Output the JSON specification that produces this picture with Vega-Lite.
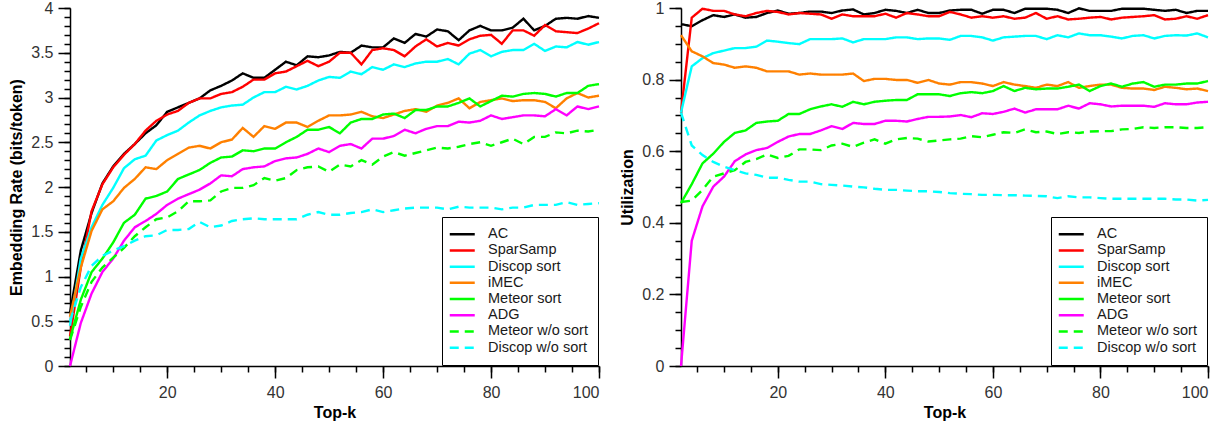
{
"$schema": "https://vega.github.io/schema/vega-lite/v6.json",
"padding": {"left": 8, "top": 0, "right": 5, "bottom": 5},
"bounds": "flush",
"spacing": 82,
"config": {
  "font": "Liberation Sans",
  "view": {"stroke": null},
  "axis": {"grid": false, "domainColor": "black", "domainWidth": 1.5, "tickColor": "black", "tickWidth": 1.5, "labelColor": "#333333", "labelFontSize": 16, "labelFont": "Liberation Sans", "titleFont": "Liberation Sans", "titleFontSize": 16, "titleFontWeight": "bold", "titleColor": "black", "labelPadding": 5},
  "legend": {"orient": "bottom-right", "offset": 1, "padding": 10, "strokeColor": "black", "fillColor": "white", "labelFontSize": 14.5, "labelFont": "Liberation Sans", "labelColor": "#1a1a1a", "symbolType": "M-2.5,0H2.5", "symbolSize": 100, "symbolStrokeWidth": 2.5, "symbolOffset": 3, "labelOffset": 18.5}
},
"datasets": {
"rate": [
{"k":2,"m":"AC","v":0.59},{"k":4,"m":"AC","v":1.29},{"k":6,"m":"AC","v":1.71},{"k":8,"m":"AC","v":2.04},{"k":10,"m":"AC","v":2.23},{"k":12,"m":"AC","v":2.37},{"k":14,"m":"AC","v":2.48},{"k":16,"m":"AC","v":2.60},{"k":18,"m":"AC","v":2.69},{"k":20,"m":"AC","v":2.84},{"k":22,"m":"AC","v":2.89},{"k":24,"m":"AC","v":2.94},{"k":26,"m":"AC","v":2.99},{"k":28,"m":"AC","v":3.08},{"k":30,"m":"AC","v":3.13},{"k":32,"m":"AC","v":3.19},{"k":34,"m":"AC","v":3.27},{"k":36,"m":"AC","v":3.22},{"k":38,"m":"AC","v":3.22},{"k":40,"m":"AC","v":3.31},{"k":42,"m":"AC","v":3.40},{"k":44,"m":"AC","v":3.36},{"k":46,"m":"AC","v":3.46},{"k":48,"m":"AC","v":3.45},{"k":50,"m":"AC","v":3.47},{"k":52,"m":"AC","v":3.51},{"k":54,"m":"AC","v":3.50},{"k":56,"m":"AC","v":3.58},{"k":58,"m":"AC","v":3.56},{"k":60,"m":"AC","v":3.56},{"k":62,"m":"AC","v":3.66},{"k":64,"m":"AC","v":3.61},{"k":66,"m":"AC","v":3.71},{"k":68,"m":"AC","v":3.68},{"k":70,"m":"AC","v":3.76},{"k":72,"m":"AC","v":3.74},{"k":74,"m":"AC","v":3.64},{"k":76,"m":"AC","v":3.75},{"k":78,"m":"AC","v":3.80},{"k":80,"m":"AC","v":3.75},{"k":82,"m":"AC","v":3.75},{"k":84,"m":"AC","v":3.78},{"k":86,"m":"AC","v":3.88},{"k":88,"m":"AC","v":3.75},{"k":90,"m":"AC","v":3.80},{"k":92,"m":"AC","v":3.88},{"k":94,"m":"AC","v":3.89},{"k":96,"m":"AC","v":3.88},{"k":98,"m":"AC","v":3.91},{"k":100,"m":"AC","v":3.89},
{"k":2,"m":"SparSamp","v":0.33},{"k":4,"m":"SparSamp","v":1.10},{"k":6,"m":"SparSamp","v":1.73},{"k":8,"m":"SparSamp","v":2.03},{"k":10,"m":"SparSamp","v":2.22},{"k":12,"m":"SparSamp","v":2.36},{"k":14,"m":"SparSamp","v":2.48},{"k":16,"m":"SparSamp","v":2.63},{"k":18,"m":"SparSamp","v":2.74},{"k":20,"m":"SparSamp","v":2.81},{"k":22,"m":"SparSamp","v":2.85},{"k":24,"m":"SparSamp","v":2.94},{"k":26,"m":"SparSamp","v":2.99},{"k":28,"m":"SparSamp","v":2.99},{"k":30,"m":"SparSamp","v":3.04},{"k":32,"m":"SparSamp","v":3.06},{"k":34,"m":"SparSamp","v":3.12},{"k":36,"m":"SparSamp","v":3.20},{"k":38,"m":"SparSamp","v":3.20},{"k":40,"m":"SparSamp","v":3.27},{"k":42,"m":"SparSamp","v":3.29},{"k":44,"m":"SparSamp","v":3.35},{"k":46,"m":"SparSamp","v":3.41},{"k":48,"m":"SparSamp","v":3.35},{"k":50,"m":"SparSamp","v":3.40},{"k":52,"m":"SparSamp","v":3.50},{"k":54,"m":"SparSamp","v":3.50},{"k":56,"m":"SparSamp","v":3.37},{"k":58,"m":"SparSamp","v":3.53},{"k":60,"m":"SparSamp","v":3.55},{"k":62,"m":"SparSamp","v":3.53},{"k":64,"m":"SparSamp","v":3.46},{"k":66,"m":"SparSamp","v":3.57},{"k":68,"m":"SparSamp","v":3.65},{"k":70,"m":"SparSamp","v":3.57},{"k":72,"m":"SparSamp","v":3.61},{"k":74,"m":"SparSamp","v":3.58},{"k":76,"m":"SparSamp","v":3.65},{"k":78,"m":"SparSamp","v":3.69},{"k":80,"m":"SparSamp","v":3.70},{"k":82,"m":"SparSamp","v":3.60},{"k":84,"m":"SparSamp","v":3.75},{"k":86,"m":"SparSamp","v":3.75},{"k":88,"m":"SparSamp","v":3.69},{"k":90,"m":"SparSamp","v":3.81},{"k":92,"m":"SparSamp","v":3.74},{"k":94,"m":"SparSamp","v":3.73},{"k":96,"m":"SparSamp","v":3.72},{"k":98,"m":"SparSamp","v":3.77},{"k":100,"m":"SparSamp","v":3.83},
{"k":2,"m":"Discop sort","v":0.45},{"k":4,"m":"Discop sort","v":1.20},{"k":6,"m":"Discop sort","v":1.55},{"k":8,"m":"Discop sort","v":1.80},{"k":10,"m":"Discop sort","v":1.99},{"k":12,"m":"Discop sort","v":2.21},{"k":14,"m":"Discop sort","v":2.31},{"k":16,"m":"Discop sort","v":2.35},{"k":18,"m":"Discop sort","v":2.52},{"k":20,"m":"Discop sort","v":2.58},{"k":22,"m":"Discop sort","v":2.63},{"k":24,"m":"Discop sort","v":2.72},{"k":26,"m":"Discop sort","v":2.80},{"k":28,"m":"Discop sort","v":2.85},{"k":30,"m":"Discop sort","v":2.89},{"k":32,"m":"Discop sort","v":2.91},{"k":34,"m":"Discop sort","v":2.92},{"k":36,"m":"Discop sort","v":3.00},{"k":38,"m":"Discop sort","v":3.06},{"k":40,"m":"Discop sort","v":3.06},{"k":42,"m":"Discop sort","v":3.12},{"k":44,"m":"Discop sort","v":3.09},{"k":46,"m":"Discop sort","v":3.13},{"k":48,"m":"Discop sort","v":3.19},{"k":50,"m":"Discop sort","v":3.23},{"k":52,"m":"Discop sort","v":3.22},{"k":54,"m":"Discop sort","v":3.29},{"k":56,"m":"Discop sort","v":3.26},{"k":58,"m":"Discop sort","v":3.34},{"k":60,"m":"Discop sort","v":3.31},{"k":62,"m":"Discop sort","v":3.37},{"k":64,"m":"Discop sort","v":3.34},{"k":66,"m":"Discop sort","v":3.38},{"k":68,"m":"Discop sort","v":3.40},{"k":70,"m":"Discop sort","v":3.40},{"k":72,"m":"Discop sort","v":3.43},{"k":74,"m":"Discop sort","v":3.37},{"k":76,"m":"Discop sort","v":3.49},{"k":78,"m":"Discop sort","v":3.53},{"k":80,"m":"Discop sort","v":3.46},{"k":82,"m":"Discop sort","v":3.51},{"k":84,"m":"Discop sort","v":3.53},{"k":86,"m":"Discop sort","v":3.53},{"k":88,"m":"Discop sort","v":3.60},{"k":90,"m":"Discop sort","v":3.52},{"k":92,"m":"Discop sort","v":3.57},{"k":94,"m":"Discop sort","v":3.56},{"k":96,"m":"Discop sort","v":3.62},{"k":98,"m":"Discop sort","v":3.59},{"k":100,"m":"Discop sort","v":3.62},
{"k":2,"m":"iMEC","v":0.55},{"k":4,"m":"iMEC","v":1.10},{"k":6,"m":"iMEC","v":1.51},{"k":8,"m":"iMEC","v":1.75},{"k":10,"m":"iMEC","v":1.84},{"k":12,"m":"iMEC","v":1.99},{"k":14,"m":"iMEC","v":2.09},{"k":16,"m":"iMEC","v":2.22},{"k":18,"m":"iMEC","v":2.20},{"k":20,"m":"iMEC","v":2.30},{"k":22,"m":"iMEC","v":2.37},{"k":24,"m":"iMEC","v":2.44},{"k":26,"m":"iMEC","v":2.46},{"k":28,"m":"iMEC","v":2.43},{"k":30,"m":"iMEC","v":2.50},{"k":32,"m":"iMEC","v":2.53},{"k":34,"m":"iMEC","v":2.66},{"k":36,"m":"iMEC","v":2.56},{"k":38,"m":"iMEC","v":2.68},{"k":40,"m":"iMEC","v":2.65},{"k":42,"m":"iMEC","v":2.72},{"k":44,"m":"iMEC","v":2.72},{"k":46,"m":"iMEC","v":2.67},{"k":48,"m":"iMEC","v":2.74},{"k":50,"m":"iMEC","v":2.80},{"k":52,"m":"iMEC","v":2.80},{"k":54,"m":"iMEC","v":2.81},{"k":56,"m":"iMEC","v":2.84},{"k":58,"m":"iMEC","v":2.79},{"k":60,"m":"iMEC","v":2.77},{"k":62,"m":"iMEC","v":2.81},{"k":64,"m":"iMEC","v":2.85},{"k":66,"m":"iMEC","v":2.87},{"k":68,"m":"iMEC","v":2.84},{"k":70,"m":"iMEC","v":2.91},{"k":72,"m":"iMEC","v":2.94},{"k":74,"m":"iMEC","v":2.99},{"k":76,"m":"iMEC","v":2.88},{"k":78,"m":"iMEC","v":2.95},{"k":80,"m":"iMEC","v":2.97},{"k":82,"m":"iMEC","v":2.99},{"k":84,"m":"iMEC","v":2.96},{"k":86,"m":"iMEC","v":2.97},{"k":88,"m":"iMEC","v":2.97},{"k":90,"m":"iMEC","v":2.95},{"k":92,"m":"iMEC","v":2.88},{"k":94,"m":"iMEC","v":2.99},{"k":96,"m":"iMEC","v":3.05},{"k":98,"m":"iMEC","v":3.00},{"k":100,"m":"iMEC","v":3.02},
{"k":2,"m":"Meteor sort","v":0.30},{"k":4,"m":"Meteor sort","v":0.74},{"k":6,"m":"Meteor sort","v":1.05},{"k":8,"m":"Meteor sort","v":1.20},{"k":10,"m":"Meteor sort","v":1.38},{"k":12,"m":"Meteor sort","v":1.60},{"k":14,"m":"Meteor sort","v":1.69},{"k":16,"m":"Meteor sort","v":1.87},{"k":18,"m":"Meteor sort","v":1.90},{"k":20,"m":"Meteor sort","v":1.95},{"k":22,"m":"Meteor sort","v":2.09},{"k":24,"m":"Meteor sort","v":2.14},{"k":26,"m":"Meteor sort","v":2.19},{"k":28,"m":"Meteor sort","v":2.27},{"k":30,"m":"Meteor sort","v":2.33},{"k":32,"m":"Meteor sort","v":2.34},{"k":34,"m":"Meteor sort","v":2.41},{"k":36,"m":"Meteor sort","v":2.40},{"k":38,"m":"Meteor sort","v":2.43},{"k":40,"m":"Meteor sort","v":2.43},{"k":42,"m":"Meteor sort","v":2.50},{"k":44,"m":"Meteor sort","v":2.56},{"k":46,"m":"Meteor sort","v":2.64},{"k":48,"m":"Meteor sort","v":2.64},{"k":50,"m":"Meteor sort","v":2.67},{"k":52,"m":"Meteor sort","v":2.60},{"k":54,"m":"Meteor sort","v":2.72},{"k":56,"m":"Meteor sort","v":2.76},{"k":58,"m":"Meteor sort","v":2.76},{"k":60,"m":"Meteor sort","v":2.81},{"k":62,"m":"Meteor sort","v":2.82},{"k":64,"m":"Meteor sort","v":2.77},{"k":66,"m":"Meteor sort","v":2.86},{"k":68,"m":"Meteor sort","v":2.86},{"k":70,"m":"Meteor sort","v":2.90},{"k":72,"m":"Meteor sort","v":2.90},{"k":74,"m":"Meteor sort","v":2.94},{"k":76,"m":"Meteor sort","v":2.99},{"k":78,"m":"Meteor sort","v":2.90},{"k":80,"m":"Meteor sort","v":2.96},{"k":82,"m":"Meteor sort","v":3.02},{"k":84,"m":"Meteor sort","v":3.01},{"k":86,"m":"Meteor sort","v":3.04},{"k":88,"m":"Meteor sort","v":3.05},{"k":90,"m":"Meteor sort","v":3.04},{"k":92,"m":"Meteor sort","v":3.01},{"k":94,"m":"Meteor sort","v":3.05},{"k":96,"m":"Meteor sort","v":3.05},{"k":98,"m":"Meteor sort","v":3.13},{"k":100,"m":"Meteor sort","v":3.15},
{"k":2,"m":"ADG","v":0.0},{"k":4,"m":"ADG","v":0.48},{"k":6,"m":"ADG","v":0.81},{"k":8,"m":"ADG","v":1.05},{"k":10,"m":"ADG","v":1.20},{"k":12,"m":"ADG","v":1.40},{"k":14,"m":"ADG","v":1.55},{"k":16,"m":"ADG","v":1.62},{"k":18,"m":"ADG","v":1.70},{"k":20,"m":"ADG","v":1.80},{"k":22,"m":"ADG","v":1.87},{"k":24,"m":"ADG","v":1.92},{"k":26,"m":"ADG","v":1.97},{"k":28,"m":"ADG","v":2.04},{"k":30,"m":"ADG","v":2.13},{"k":32,"m":"ADG","v":2.12},{"k":34,"m":"ADG","v":2.20},{"k":36,"m":"ADG","v":2.22},{"k":38,"m":"ADG","v":2.23},{"k":40,"m":"ADG","v":2.29},{"k":42,"m":"ADG","v":2.32},{"k":44,"m":"ADG","v":2.33},{"k":46,"m":"ADG","v":2.37},{"k":48,"m":"ADG","v":2.43},{"k":50,"m":"ADG","v":2.39},{"k":52,"m":"ADG","v":2.46},{"k":54,"m":"ADG","v":2.48},{"k":56,"m":"ADG","v":2.43},{"k":58,"m":"ADG","v":2.54},{"k":60,"m":"ADG","v":2.54},{"k":62,"m":"ADG","v":2.57},{"k":64,"m":"ADG","v":2.64},{"k":66,"m":"ADG","v":2.60},{"k":68,"m":"ADG","v":2.65},{"k":70,"m":"ADG","v":2.68},{"k":72,"m":"ADG","v":2.68},{"k":74,"m":"ADG","v":2.73},{"k":76,"m":"ADG","v":2.72},{"k":78,"m":"ADG","v":2.74},{"k":80,"m":"ADG","v":2.80},{"k":82,"m":"ADG","v":2.76},{"k":84,"m":"ADG","v":2.78},{"k":86,"m":"ADG","v":2.80},{"k":88,"m":"ADG","v":2.80},{"k":90,"m":"ADG","v":2.79},{"k":92,"m":"ADG","v":2.87},{"k":94,"m":"ADG","v":2.80},{"k":96,"m":"ADG","v":2.90},{"k":98,"m":"ADG","v":2.87},{"k":100,"m":"ADG","v":2.90},
{"k":2,"m":"Meteor w/o sort","v":0.29},{"k":4,"m":"Meteor w/o sort","v":0.66},{"k":6,"m":"Meteor w/o sort","v":0.94},{"k":8,"m":"Meteor w/o sort","v":1.10},{"k":10,"m":"Meteor w/o sort","v":1.21},{"k":12,"m":"Meteor w/o sort","v":1.32},{"k":14,"m":"Meteor w/o sort","v":1.45},{"k":16,"m":"Meteor w/o sort","v":1.55},{"k":18,"m":"Meteor w/o sort","v":1.64},{"k":20,"m":"Meteor w/o sort","v":1.66},{"k":22,"m":"Meteor w/o sort","v":1.73},{"k":24,"m":"Meteor w/o sort","v":1.84},{"k":26,"m":"Meteor w/o sort","v":1.84},{"k":28,"m":"Meteor w/o sort","v":1.85},{"k":30,"m":"Meteor w/o sort","v":1.95},{"k":32,"m":"Meteor w/o sort","v":1.99},{"k":34,"m":"Meteor w/o sort","v":1.99},{"k":36,"m":"Meteor w/o sort","v":2.02},{"k":38,"m":"Meteor w/o sort","v":2.10},{"k":40,"m":"Meteor w/o sort","v":2.07},{"k":42,"m":"Meteor w/o sort","v":2.10},{"k":44,"m":"Meteor w/o sort","v":2.19},{"k":46,"m":"Meteor w/o sort","v":2.22},{"k":48,"m":"Meteor w/o sort","v":2.23},{"k":50,"m":"Meteor w/o sort","v":2.17},{"k":52,"m":"Meteor w/o sort","v":2.25},{"k":54,"m":"Meteor w/o sort","v":2.23},{"k":56,"m":"Meteor w/o sort","v":2.30},{"k":58,"m":"Meteor w/o sort","v":2.25},{"k":60,"m":"Meteor w/o sort","v":2.34},{"k":62,"m":"Meteor w/o sort","v":2.39},{"k":64,"m":"Meteor w/o sort","v":2.35},{"k":66,"m":"Meteor w/o sort","v":2.38},{"k":68,"m":"Meteor w/o sort","v":2.41},{"k":70,"m":"Meteor w/o sort","v":2.44},{"k":72,"m":"Meteor w/o sort","v":2.43},{"k":74,"m":"Meteor w/o sort","v":2.45},{"k":76,"m":"Meteor w/o sort","v":2.48},{"k":78,"m":"Meteor w/o sort","v":2.50},{"k":80,"m":"Meteor w/o sort","v":2.46},{"k":82,"m":"Meteor w/o sort","v":2.50},{"k":84,"m":"Meteor w/o sort","v":2.54},{"k":86,"m":"Meteor w/o sort","v":2.48},{"k":88,"m":"Meteor w/o sort","v":2.56},{"k":90,"m":"Meteor w/o sort","v":2.56},{"k":92,"m":"Meteor w/o sort","v":2.61},{"k":94,"m":"Meteor w/o sort","v":2.60},{"k":96,"m":"Meteor w/o sort","v":2.63},{"k":98,"m":"Meteor w/o sort","v":2.62},{"k":100,"m":"Meteor w/o sort","v":2.64},
{"k":2,"m":"Discop w/o sort","v":0.50},{"k":4,"m":"Discop w/o sort","v":0.88},{"k":6,"m":"Discop w/o sort","v":1.12},{"k":8,"m":"Discop w/o sort","v":1.23},{"k":10,"m":"Discop w/o sort","v":1.29},{"k":12,"m":"Discop w/o sort","v":1.34},{"k":14,"m":"Discop w/o sort","v":1.40},{"k":16,"m":"Discop w/o sort","v":1.45},{"k":18,"m":"Discop w/o sort","v":1.46},{"k":20,"m":"Discop w/o sort","v":1.52},{"k":22,"m":"Discop w/o sort","v":1.52},{"k":24,"m":"Discop w/o sort","v":1.53},{"k":26,"m":"Discop w/o sort","v":1.61},{"k":28,"m":"Discop w/o sort","v":1.55},{"k":30,"m":"Discop w/o sort","v":1.57},{"k":32,"m":"Discop w/o sort","v":1.62},{"k":34,"m":"Discop w/o sort","v":1.64},{"k":36,"m":"Discop w/o sort","v":1.65},{"k":38,"m":"Discop w/o sort","v":1.64},{"k":40,"m":"Discop w/o sort","v":1.64},{"k":42,"m":"Discop w/o sort","v":1.64},{"k":44,"m":"Discop w/o sort","v":1.64},{"k":46,"m":"Discop w/o sort","v":1.69},{"k":48,"m":"Discop w/o sort","v":1.72},{"k":50,"m":"Discop w/o sort","v":1.69},{"k":52,"m":"Discop w/o sort","v":1.69},{"k":54,"m":"Discop w/o sort","v":1.71},{"k":56,"m":"Discop w/o sort","v":1.72},{"k":58,"m":"Discop w/o sort","v":1.75},{"k":60,"m":"Discop w/o sort","v":1.72},{"k":62,"m":"Discop w/o sort","v":1.74},{"k":64,"m":"Discop w/o sort","v":1.76},{"k":66,"m":"Discop w/o sort","v":1.77},{"k":68,"m":"Discop w/o sort","v":1.77},{"k":70,"m":"Discop w/o sort","v":1.77},{"k":72,"m":"Discop w/o sort","v":1.75},{"k":74,"m":"Discop w/o sort","v":1.78},{"k":76,"m":"Discop w/o sort","v":1.77},{"k":78,"m":"Discop w/o sort","v":1.77},{"k":80,"m":"Discop w/o sort","v":1.77},{"k":82,"m":"Discop w/o sort","v":1.75},{"k":84,"m":"Discop w/o sort","v":1.77},{"k":86,"m":"Discop w/o sort","v":1.77},{"k":88,"m":"Discop w/o sort","v":1.80},{"k":90,"m":"Discop w/o sort","v":1.80},{"k":92,"m":"Discop w/o sort","v":1.80},{"k":94,"m":"Discop w/o sort","v":1.83},{"k":96,"m":"Discop w/o sort","v":1.80},{"k":98,"m":"Discop w/o sort","v":1.81},{"k":100,"m":"Discop w/o sort","v":1.82}
],
"util": [
{"k":2,"m":"AC","v":0.955},{"k":4,"m":"AC","v":0.949},{"k":6,"m":"AC","v":0.966},{"k":8,"m":"AC","v":0.980},{"k":10,"m":"AC","v":0.975},{"k":12,"m":"AC","v":0.982},{"k":14,"m":"AC","v":0.973},{"k":16,"m":"AC","v":0.975},{"k":18,"m":"AC","v":0.986},{"k":20,"m":"AC","v":0.993},{"k":22,"m":"AC","v":0.984},{"k":24,"m":"AC","v":0.986},{"k":26,"m":"AC","v":0.990},{"k":28,"m":"AC","v":0.990},{"k":30,"m":"AC","v":0.986},{"k":32,"m":"AC","v":0.993},{"k":34,"m":"AC","v":0.996},{"k":36,"m":"AC","v":0.982},{"k":38,"m":"AC","v":0.986},{"k":40,"m":"AC","v":0.995},{"k":42,"m":"AC","v":0.992},{"k":44,"m":"AC","v":0.986},{"k":46,"m":"AC","v":0.995},{"k":48,"m":"AC","v":0.986},{"k":50,"m":"AC","v":0.986},{"k":52,"m":"AC","v":0.993},{"k":54,"m":"AC","v":0.995},{"k":56,"m":"AC","v":0.995},{"k":58,"m":"AC","v":0.984},{"k":60,"m":"AC","v":0.995},{"k":62,"m":"AC","v":0.995},{"k":64,"m":"AC","v":0.986},{"k":66,"m":"AC","v":0.998},{"k":68,"m":"AC","v":0.998},{"k":70,"m":"AC","v":0.998},{"k":72,"m":"AC","v":0.995},{"k":74,"m":"AC","v":0.986},{"k":76,"m":"AC","v":0.999},{"k":78,"m":"AC","v":0.992},{"k":80,"m":"AC","v":0.992},{"k":82,"m":"AC","v":0.992},{"k":84,"m":"AC","v":0.998},{"k":86,"m":"AC","v":0.998},{"k":88,"m":"AC","v":0.998},{"k":90,"m":"AC","v":0.995},{"k":92,"m":"AC","v":0.992},{"k":94,"m":"AC","v":0.995},{"k":96,"m":"AC","v":0.986},{"k":98,"m":"AC","v":0.992},{"k":100,"m":"AC","v":0.992},
{"k":2,"m":"SparSamp","v":0.708},{"k":4,"m":"SparSamp","v":0.973},{"k":6,"m":"SparSamp","v":0.998},{"k":8,"m":"SparSamp","v":0.992},{"k":10,"m":"SparSamp","v":0.992},{"k":12,"m":"SparSamp","v":0.982},{"k":14,"m":"SparSamp","v":0.977},{"k":16,"m":"SparSamp","v":0.986},{"k":18,"m":"SparSamp","v":0.992},{"k":20,"m":"SparSamp","v":0.989},{"k":22,"m":"SparSamp","v":0.982},{"k":24,"m":"SparSamp","v":0.986},{"k":26,"m":"SparSamp","v":0.984},{"k":28,"m":"SparSamp","v":0.982},{"k":30,"m":"SparSamp","v":0.970},{"k":32,"m":"SparSamp","v":0.982},{"k":34,"m":"SparSamp","v":0.977},{"k":36,"m":"SparSamp","v":0.977},{"k":38,"m":"SparSamp","v":0.977},{"k":40,"m":"SparSamp","v":0.984},{"k":42,"m":"SparSamp","v":0.973},{"k":44,"m":"SparSamp","v":0.986},{"k":46,"m":"SparSamp","v":0.982},{"k":48,"m":"SparSamp","v":0.977},{"k":50,"m":"SparSamp","v":0.977},{"k":52,"m":"SparSamp","v":0.989},{"k":54,"m":"SparSamp","v":0.982},{"k":56,"m":"SparSamp","v":0.973},{"k":58,"m":"SparSamp","v":0.977},{"k":60,"m":"SparSamp","v":0.973},{"k":62,"m":"SparSamp","v":0.977},{"k":64,"m":"SparSamp","v":0.970},{"k":66,"m":"SparSamp","v":0.973},{"k":68,"m":"SparSamp","v":0.986},{"k":70,"m":"SparSamp","v":0.970},{"k":72,"m":"SparSamp","v":0.977},{"k":74,"m":"SparSamp","v":0.968},{"k":76,"m":"SparSamp","v":0.970},{"k":78,"m":"SparSamp","v":0.973},{"k":80,"m":"SparSamp","v":0.975},{"k":82,"m":"SparSamp","v":0.968},{"k":84,"m":"SparSamp","v":0.973},{"k":86,"m":"SparSamp","v":0.975},{"k":88,"m":"SparSamp","v":0.977},{"k":90,"m":"SparSamp","v":0.980},{"k":92,"m":"SparSamp","v":0.968},{"k":94,"m":"SparSamp","v":0.970},{"k":96,"m":"SparSamp","v":0.977},{"k":98,"m":"SparSamp","v":0.970},{"k":100,"m":"SparSamp","v":0.980},
{"k":2,"m":"Discop sort","v":0.708},{"k":4,"m":"Discop sort","v":0.837},{"k":6,"m":"Discop sort","v":0.860},{"k":8,"m":"Discop sort","v":0.874},{"k":10,"m":"Discop sort","v":0.881},{"k":12,"m":"Discop sort","v":0.888},{"k":14,"m":"Discop sort","v":0.888},{"k":16,"m":"Discop sort","v":0.892},{"k":18,"m":"Discop sort","v":0.909},{"k":20,"m":"Discop sort","v":0.906},{"k":22,"m":"Discop sort","v":0.902},{"k":24,"m":"Discop sort","v":0.899},{"k":26,"m":"Discop sort","v":0.913},{"k":28,"m":"Discop sort","v":0.913},{"k":30,"m":"Discop sort","v":0.913},{"k":32,"m":"Discop sort","v":0.915},{"k":34,"m":"Discop sort","v":0.904},{"k":36,"m":"Discop sort","v":0.913},{"k":38,"m":"Discop sort","v":0.913},{"k":40,"m":"Discop sort","v":0.913},{"k":42,"m":"Discop sort","v":0.918},{"k":44,"m":"Discop sort","v":0.918},{"k":46,"m":"Discop sort","v":0.913},{"k":48,"m":"Discop sort","v":0.915},{"k":50,"m":"Discop sort","v":0.915},{"k":52,"m":"Discop sort","v":0.911},{"k":54,"m":"Discop sort","v":0.922},{"k":56,"m":"Discop sort","v":0.922},{"k":58,"m":"Discop sort","v":0.918},{"k":60,"m":"Discop sort","v":0.909},{"k":62,"m":"Discop sort","v":0.918},{"k":64,"m":"Discop sort","v":0.920},{"k":66,"m":"Discop sort","v":0.922},{"k":68,"m":"Discop sort","v":0.922},{"k":70,"m":"Discop sort","v":0.913},{"k":72,"m":"Discop sort","v":0.924},{"k":74,"m":"Discop sort","v":0.918},{"k":76,"m":"Discop sort","v":0.929},{"k":78,"m":"Discop sort","v":0.924},{"k":80,"m":"Discop sort","v":0.924},{"k":82,"m":"Discop sort","v":0.920},{"k":84,"m":"Discop sort","v":0.915},{"k":86,"m":"Discop sort","v":0.922},{"k":88,"m":"Discop sort","v":0.924},{"k":90,"m":"Discop sort","v":0.915},{"k":92,"m":"Discop sort","v":0.922},{"k":94,"m":"Discop sort","v":0.924},{"k":96,"m":"Discop sort","v":0.923},{"k":98,"m":"Discop sort","v":0.929},{"k":100,"m":"Discop sort","v":0.918},
{"k":2,"m":"iMEC","v":0.924},{"k":4,"m":"iMEC","v":0.879},{"k":6,"m":"iMEC","v":0.865},{"k":8,"m":"iMEC","v":0.846},{"k":10,"m":"iMEC","v":0.842},{"k":12,"m":"iMEC","v":0.833},{"k":14,"m":"iMEC","v":0.837},{"k":16,"m":"iMEC","v":0.833},{"k":18,"m":"iMEC","v":0.823},{"k":20,"m":"iMEC","v":0.823},{"k":22,"m":"iMEC","v":0.823},{"k":24,"m":"iMEC","v":0.814},{"k":26,"m":"iMEC","v":0.817},{"k":28,"m":"iMEC","v":0.814},{"k":30,"m":"iMEC","v":0.814},{"k":32,"m":"iMEC","v":0.814},{"k":34,"m":"iMEC","v":0.817},{"k":36,"m":"iMEC","v":0.796},{"k":38,"m":"iMEC","v":0.802},{"k":40,"m":"iMEC","v":0.802},{"k":42,"m":"iMEC","v":0.799},{"k":44,"m":"iMEC","v":0.799},{"k":46,"m":"iMEC","v":0.791},{"k":48,"m":"iMEC","v":0.799},{"k":50,"m":"iMEC","v":0.789},{"k":52,"m":"iMEC","v":0.786},{"k":54,"m":"iMEC","v":0.793},{"k":56,"m":"iMEC","v":0.793},{"k":58,"m":"iMEC","v":0.789},{"k":60,"m":"iMEC","v":0.782},{"k":62,"m":"iMEC","v":0.793},{"k":64,"m":"iMEC","v":0.786},{"k":66,"m":"iMEC","v":0.782},{"k":68,"m":"iMEC","v":0.777},{"k":70,"m":"iMEC","v":0.786},{"k":72,"m":"iMEC","v":0.782},{"k":74,"m":"iMEC","v":0.793},{"k":76,"m":"iMEC","v":0.777},{"k":78,"m":"iMEC","v":0.782},{"k":80,"m":"iMEC","v":0.786},{"k":82,"m":"iMEC","v":0.786},{"k":84,"m":"iMEC","v":0.777},{"k":86,"m":"iMEC","v":0.775},{"k":88,"m":"iMEC","v":0.775},{"k":90,"m":"iMEC","v":0.771},{"k":92,"m":"iMEC","v":0.780},{"k":94,"m":"iMEC","v":0.777},{"k":96,"m":"iMEC","v":0.773},{"k":98,"m":"iMEC","v":0.775},{"k":100,"m":"iMEC","v":0.768},
{"k":2,"m":"Meteor sort","v":0.455},{"k":4,"m":"Meteor sort","v":0.508},{"k":6,"m":"Meteor sort","v":0.566},{"k":8,"m":"Meteor sort","v":0.593},{"k":10,"m":"Meteor sort","v":0.626},{"k":12,"m":"Meteor sort","v":0.651},{"k":14,"m":"Meteor sort","v":0.658},{"k":16,"m":"Meteor sort","v":0.679},{"k":18,"m":"Meteor sort","v":0.683},{"k":20,"m":"Meteor sort","v":0.685},{"k":22,"m":"Meteor sort","v":0.704},{"k":24,"m":"Meteor sort","v":0.704},{"k":26,"m":"Meteor sort","v":0.717},{"k":28,"m":"Meteor sort","v":0.725},{"k":30,"m":"Meteor sort","v":0.731},{"k":32,"m":"Meteor sort","v":0.724},{"k":34,"m":"Meteor sort","v":0.738},{"k":36,"m":"Meteor sort","v":0.731},{"k":38,"m":"Meteor sort","v":0.738},{"k":40,"m":"Meteor sort","v":0.741},{"k":42,"m":"Meteor sort","v":0.743},{"k":44,"m":"Meteor sort","v":0.743},{"k":46,"m":"Meteor sort","v":0.759},{"k":48,"m":"Meteor sort","v":0.759},{"k":50,"m":"Meteor sort","v":0.759},{"k":52,"m":"Meteor sort","v":0.754},{"k":54,"m":"Meteor sort","v":0.762},{"k":56,"m":"Meteor sort","v":0.765},{"k":58,"m":"Meteor sort","v":0.762},{"k":60,"m":"Meteor sort","v":0.768},{"k":62,"m":"Meteor sort","v":0.782},{"k":64,"m":"Meteor sort","v":0.768},{"k":66,"m":"Meteor sort","v":0.777},{"k":68,"m":"Meteor sort","v":0.773},{"k":70,"m":"Meteor sort","v":0.775},{"k":72,"m":"Meteor sort","v":0.775},{"k":74,"m":"Meteor sort","v":0.780},{"k":76,"m":"Meteor sort","v":0.786},{"k":78,"m":"Meteor sort","v":0.768},{"k":80,"m":"Meteor sort","v":0.782},{"k":82,"m":"Meteor sort","v":0.789},{"k":84,"m":"Meteor sort","v":0.780},{"k":86,"m":"Meteor sort","v":0.789},{"k":88,"m":"Meteor sort","v":0.793},{"k":90,"m":"Meteor sort","v":0.780},{"k":92,"m":"Meteor sort","v":0.786},{"k":94,"m":"Meteor sort","v":0.786},{"k":96,"m":"Meteor sort","v":0.789},{"k":98,"m":"Meteor sort","v":0.789},{"k":100,"m":"Meteor sort","v":0.796},
{"k":2,"m":"ADG","v":0.0},{"k":4,"m":"ADG","v":0.350},{"k":6,"m":"ADG","v":0.446},{"k":8,"m":"ADG","v":0.501},{"k":10,"m":"ADG","v":0.529},{"k":12,"m":"ADG","v":0.572},{"k":14,"m":"ADG","v":0.591},{"k":16,"m":"ADG","v":0.603},{"k":18,"m":"ADG","v":0.609},{"k":20,"m":"ADG","v":0.626},{"k":22,"m":"ADG","v":0.641},{"k":24,"m":"ADG","v":0.648},{"k":26,"m":"ADG","v":0.648},{"k":28,"m":"ADG","v":0.658},{"k":30,"m":"ADG","v":0.670},{"k":32,"m":"ADG","v":0.662},{"k":34,"m":"ADG","v":0.679},{"k":36,"m":"ADG","v":0.676},{"k":38,"m":"ADG","v":0.676},{"k":40,"m":"ADG","v":0.685},{"k":42,"m":"ADG","v":0.685},{"k":44,"m":"ADG","v":0.683},{"k":46,"m":"ADG","v":0.690},{"k":48,"m":"ADG","v":0.696},{"k":50,"m":"ADG","v":0.696},{"k":52,"m":"ADG","v":0.697},{"k":54,"m":"ADG","v":0.701},{"k":56,"m":"ADG","v":0.695},{"k":58,"m":"ADG","v":0.706},{"k":60,"m":"ADG","v":0.704},{"k":62,"m":"ADG","v":0.710},{"k":64,"m":"ADG","v":0.719},{"k":66,"m":"ADG","v":0.708},{"k":68,"m":"ADG","v":0.717},{"k":70,"m":"ADG","v":0.717},{"k":72,"m":"ADG","v":0.717},{"k":74,"m":"ADG","v":0.727},{"k":76,"m":"ADG","v":0.719},{"k":78,"m":"ADG","v":0.734},{"k":80,"m":"ADG","v":0.731},{"k":82,"m":"ADG","v":0.725},{"k":84,"m":"ADG","v":0.727},{"k":86,"m":"ADG","v":0.727},{"k":88,"m":"ADG","v":0.727},{"k":90,"m":"ADG","v":0.724},{"k":92,"m":"ADG","v":0.734},{"k":94,"m":"ADG","v":0.731},{"k":96,"m":"ADG","v":0.731},{"k":98,"m":"ADG","v":0.736},{"k":100,"m":"ADG","v":0.738},
{"k":2,"m":"Meteor w/o sort","v":0.458},{"k":4,"m":"Meteor w/o sort","v":0.462},{"k":6,"m":"Meteor w/o sort","v":0.492},{"k":8,"m":"Meteor w/o sort","v":0.529},{"k":10,"m":"Meteor w/o sort","v":0.538},{"k":12,"m":"Meteor w/o sort","v":0.547},{"k":14,"m":"Meteor w/o sort","v":0.570},{"k":16,"m":"Meteor w/o sort","v":0.578},{"k":18,"m":"Meteor w/o sort","v":0.591},{"k":20,"m":"Meteor w/o sort","v":0.581},{"k":22,"m":"Meteor w/o sort","v":0.587},{"k":24,"m":"Meteor w/o sort","v":0.605},{"k":26,"m":"Meteor w/o sort","v":0.605},{"k":28,"m":"Meteor w/o sort","v":0.603},{"k":30,"m":"Meteor w/o sort","v":0.616},{"k":32,"m":"Meteor w/o sort","v":0.621},{"k":34,"m":"Meteor w/o sort","v":0.612},{"k":36,"m":"Meteor w/o sort","v":0.624},{"k":38,"m":"Meteor w/o sort","v":0.633},{"k":40,"m":"Meteor w/o sort","v":0.621},{"k":42,"m":"Meteor w/o sort","v":0.633},{"k":44,"m":"Meteor w/o sort","v":0.637},{"k":46,"m":"Meteor w/o sort","v":0.635},{"k":48,"m":"Meteor w/o sort","v":0.627},{"k":50,"m":"Meteor w/o sort","v":0.630},{"k":52,"m":"Meteor w/o sort","v":0.633},{"k":54,"m":"Meteor w/o sort","v":0.635},{"k":56,"m":"Meteor w/o sort","v":0.642},{"k":58,"m":"Meteor w/o sort","v":0.639},{"k":60,"m":"Meteor w/o sort","v":0.646},{"k":62,"m":"Meteor w/o sort","v":0.653},{"k":64,"m":"Meteor w/o sort","v":0.651},{"k":66,"m":"Meteor w/o sort","v":0.661},{"k":68,"m":"Meteor w/o sort","v":0.653},{"k":70,"m":"Meteor w/o sort","v":0.655},{"k":72,"m":"Meteor w/o sort","v":0.648},{"k":74,"m":"Meteor w/o sort","v":0.653},{"k":76,"m":"Meteor w/o sort","v":0.651},{"k":78,"m":"Meteor w/o sort","v":0.655},{"k":80,"m":"Meteor w/o sort","v":0.656},{"k":82,"m":"Meteor w/o sort","v":0.656},{"k":84,"m":"Meteor w/o sort","v":0.661},{"k":86,"m":"Meteor w/o sort","v":0.662},{"k":88,"m":"Meteor w/o sort","v":0.667},{"k":90,"m":"Meteor w/o sort","v":0.665},{"k":92,"m":"Meteor w/o sort","v":0.667},{"k":94,"m":"Meteor w/o sort","v":0.667},{"k":96,"m":"Meteor w/o sort","v":0.665},{"k":98,"m":"Meteor w/o sort","v":0.665},{"k":100,"m":"Meteor w/o sort","v":0.667},
{"k":2,"m":"Discop w/o sort","v":0.708},{"k":4,"m":"Discop w/o sort","v":0.616},{"k":6,"m":"Discop w/o sort","v":0.589},{"k":8,"m":"Discop w/o sort","v":0.570},{"k":10,"m":"Discop w/o sort","v":0.557},{"k":12,"m":"Discop w/o sort","v":0.547},{"k":14,"m":"Discop w/o sort","v":0.538},{"k":16,"m":"Discop w/o sort","v":0.534},{"k":18,"m":"Discop w/o sort","v":0.526},{"k":20,"m":"Discop w/o sort","v":0.526},{"k":22,"m":"Discop w/o sort","v":0.520},{"k":24,"m":"Discop w/o sort","v":0.515},{"k":26,"m":"Discop w/o sort","v":0.515},{"k":28,"m":"Discop w/o sort","v":0.508},{"k":30,"m":"Discop w/o sort","v":0.506},{"k":32,"m":"Discop w/o sort","v":0.504},{"k":34,"m":"Discop w/o sort","v":0.501},{"k":36,"m":"Discop w/o sort","v":0.499},{"k":38,"m":"Discop w/o sort","v":0.495},{"k":40,"m":"Discop w/o sort","v":0.492},{"k":42,"m":"Discop w/o sort","v":0.492},{"k":44,"m":"Discop w/o sort","v":0.490},{"k":46,"m":"Discop w/o sort","v":0.488},{"k":48,"m":"Discop w/o sort","v":0.488},{"k":50,"m":"Discop w/o sort","v":0.486},{"k":52,"m":"Discop w/o sort","v":0.483},{"k":54,"m":"Discop w/o sort","v":0.481},{"k":56,"m":"Discop w/o sort","v":0.480},{"k":58,"m":"Discop w/o sort","v":0.478},{"k":60,"m":"Discop w/o sort","v":0.478},{"k":62,"m":"Discop w/o sort","v":0.477},{"k":64,"m":"Discop w/o sort","v":0.477},{"k":66,"m":"Discop w/o sort","v":0.476},{"k":68,"m":"Discop w/o sort","v":0.475},{"k":70,"m":"Discop w/o sort","v":0.474},{"k":72,"m":"Discop w/o sort","v":0.469},{"k":74,"m":"Discop w/o sort","v":0.474},{"k":76,"m":"Discop w/o sort","v":0.471},{"k":78,"m":"Discop w/o sort","v":0.471},{"k":80,"m":"Discop w/o sort","v":0.469},{"k":82,"m":"Discop w/o sort","v":0.467},{"k":84,"m":"Discop w/o sort","v":0.467},{"k":86,"m":"Discop w/o sort","v":0.467},{"k":88,"m":"Discop w/o sort","v":0.467},{"k":90,"m":"Discop w/o sort","v":0.467},{"k":92,"m":"Discop w/o sort","v":0.467},{"k":94,"m":"Discop w/o sort","v":0.465},{"k":96,"m":"Discop w/o sort","v":0.465},{"k":98,"m":"Discop w/o sort","v":0.462},{"k":100,"m":"Discop w/o sort","v":0.464}
]
},
"resolve": {"scale": {"color": "independent", "strokeDash": "independent"}},
"hconcat": [
{
  "width": 529, "height": 358,
  "data": {"name": "rate"},
  "resolve": {"axis": {"x": "independent", "y": "independent"}},
  "layer": [
    {"mark": {"type": "line", "strokeWidth": 2.4},
     "encoding": {
       "x": {"field": "k", "type": "quantitative", "scale": {"domain": [2, 100], "nice": false, "zero": false}, "axis": {"orient": "bottom", "values": [20, 40, 60, 80, 100], "tickSize": 12, "title": "Top-k", "format": "d", "labelPadding": 6, "titlePadding": 4}},
       "y": {"field": "v", "type": "quantitative", "scale": {"domain": [0, 4], "nice": false}, "axis": {"orient": "left", "values": [0, 0.5, 1, 1.5, 2, 2.5, 3, 3.5, 4], "tickSize": 12, "title": "Embedding Rate (bits/token)", "format": "~g", "titlePadding": 6}},
       "color": {"field": "m", "type": "nominal", "scale": {"domain": ["AC", "SparSamp", "Discop sort", "iMEC", "Meteor sort", "ADG", "Meteor w/o sort", "Discop w/o sort"], "range": ["#000000", "#ff0000", "#00ffff", "#ff8000", "#00ff00", "#ff00ff", "#00ff00", "#00ffff"]}, "legend": {"title": null, "rowPadding": 1.2}},
       "strokeDash": {"field": "m", "type": "nominal", "scale": {"domain": ["AC", "SparSamp", "Discop sort", "iMEC", "Meteor sort", "ADG", "Meteor w/o sort", "Discop w/o sort"], "range": [[1, 0], [1, 0], [1, 0], [1, 0], [1, 0], [1, 0], [9, 6], [9, 6]]}, "legend": {"title": null, "rowPadding": 1.2}}
     }},
    {"mark": {"type": "line", "strokeOpacity": 0},
     "encoding": {
       "x": {"field": "k", "type": "quantitative", "axis": {"orient": "bottom", "values": [5,10,15,20,25,30,35,40,45,50,55,60,65,70,75,80,85,90,95,100], "tickSize": 6, "labels": false, "domain": false, "title": null}},
       "y": {"field": "v", "type": "quantitative", "axis": {"orient": "left", "values": [0,0.1,0.2,0.3,0.4,0.5,0.6,0.7,0.8,0.9,1,1.1,1.2,1.3,1.4,1.5,1.6,1.7,1.8,1.9,2,2.1,2.2,2.3,2.4,2.5,2.6,2.7,2.8,2.9,3,3.1,3.2,3.3,3.4,3.5,3.6,3.7,3.8,3.9,4], "tickSize": 6, "labels": false, "domain": false, "title": null}}
     }}
  ]
},
{
  "width": 527, "height": 358,
  "data": {"name": "util"},
  "resolve": {"axis": {"x": "independent", "y": "independent"}},
  "layer": [
    {"mark": {"type": "line", "strokeWidth": 2.4},
     "encoding": {
       "x": {"field": "k", "type": "quantitative", "scale": {"domain": [2, 100], "nice": false, "zero": false}, "axis": {"orient": "bottom", "values": [20, 40, 60, 80, 100], "tickSize": 12, "title": "Top-k", "format": "d", "labelPadding": 6, "titlePadding": 4}},
       "y": {"field": "v", "type": "quantitative", "scale": {"domain": [0, 1], "nice": false}, "axis": {"orient": "left", "values": [0, 0.2, 0.4, 0.6, 0.8, 1], "tickSize": 12, "title": "Utilization", "format": "~g", "titlePadding": 6}},
       "color": {"field": "m", "type": "nominal", "scale": {"domain": ["AC", "SparSamp", "Discop sort", "iMEC", "Meteor sort", "ADG", "Meteor w/o sort", "Discop w/o sort"], "range": ["#000000", "#ff0000", "#00ffff", "#ff8000", "#00ff00", "#ff00ff", "#00ff00", "#00ffff"]}, "legend": {"title": null, "rowPadding": 1.2}},
       "strokeDash": {"field": "m", "type": "nominal", "scale": {"domain": ["AC", "SparSamp", "Discop sort", "iMEC", "Meteor sort", "ADG", "Meteor w/o sort", "Discop w/o sort"], "range": [[1, 0], [1, 0], [1, 0], [1, 0], [1, 0], [1, 0], [9, 6], [9, 6]]}, "legend": {"title": null, "rowPadding": 1.2}}
     }},
    {"mark": {"type": "line", "strokeOpacity": 0},
     "encoding": {
       "x": {"field": "k", "type": "quantitative", "axis": {"orient": "bottom", "values": [5,10,15,20,25,30,35,40,45,50,55,60,65,70,75,80,85,90,95,100], "tickSize": 6, "labels": false, "domain": false, "title": null}},
       "y": {"field": "v", "type": "quantitative", "axis": {"orient": "left", "values": [0,0.05,0.1,0.15,0.2,0.25,0.3,0.35,0.4,0.45,0.5,0.55,0.6,0.65,0.7,0.75,0.8,0.85,0.9,0.95,1], "tickSize": 6, "labels": false, "domain": false, "title": null}}
     }}
  ]
}
]
}
